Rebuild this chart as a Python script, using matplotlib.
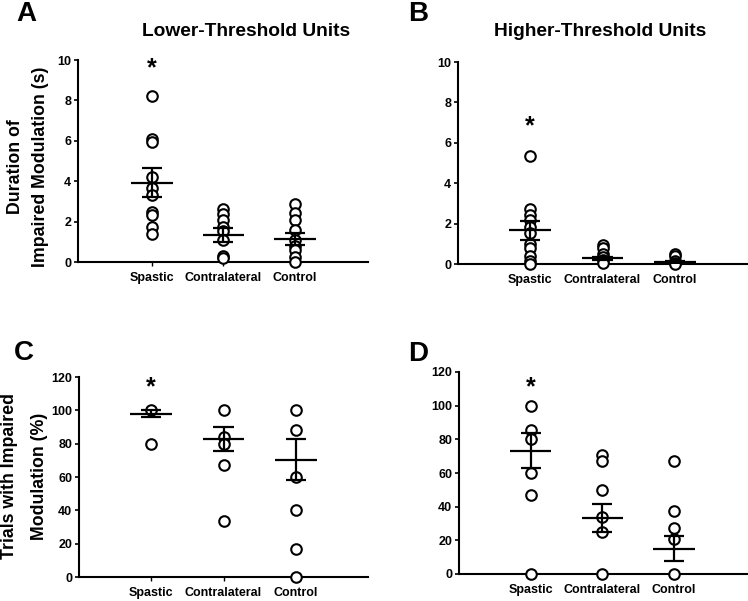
import numpy as np
import matplotlib
matplotlib.use("Agg")
import matplotlib.pyplot as plt

plt.rcParams['font.family'] = ['Liberation Sans', 'DejaVu Sans']
plt.rcParams['font.weight'] = 'bold'

groups = ["Spastic", "Contralateral", "Control"]

# A - lower-threshold units, duration (s)
dur_low = [
    [8.2, 6.1, 5.95, 4.2, 3.65, 3.3, 2.5, 2.35, 1.75, 1.38],
    [2.6, 2.4, 2.1, 1.75, 1.55, 1.1, 0.28, 0.18],
    [2.85, 2.45, 2.1, 1.6, 1.1, 0.8, 0.6, 0.25, 0.02],
]
dur_low_mean = [3.92, 1.33, 1.14]
dur_low_se = [0.71, 0.33, 0.31]

# B - higher-threshold units, duration (s)
dur_high = [
    [5.35, 2.7, 2.45, 2.2, 1.85, 1.55, 1.0, 0.8, 0.4, 0.15, 0.02],
    [0.95, 0.8, 0.5, 0.35, 0.2, 0.05],
    [0.5, 0.4, 0.15, 0.05, 0.0],
]
dur_high_mean = [1.67, 0.28, 0.1]
dur_high_se = [0.47, 0.09, 0.06]

# C - lower-threshold units, trials (%)
pct_low = [
    [100, 80],
    [100, 84, 80, 67, 33.5],
    [100, 88, 60, 40, 16.7, 0],
]
pct_low_mean = [98, 83, 70.5]
pct_low_se = [2, 7.2, 12.3]

# D - higher-threshold units, trials (%)
pct_high = [
    [100, 85.7, 80, 60, 47, 0],
    [70.5, 67, 50, 34, 25, 0],
    [67, 37.5, 27.5, 20.5, 0],
]
pct_high_mean = [73.3, 33.3, 15]
pct_high_se = [10.4, 8.2, 7.4]

star_y = [9.6, 6.8, 114, 111]

W, H = 748, 601
fig = plt.figure(figsize=(W / 100, H / 100), dpi=100)


def px_axes(l, r, b, t):
    return fig.add_axes([l / W, 1 - b / H, (r - l) / W, (b - t) / H])


def panel(ax, pts, means, ses, ylim, yticks, xlim, sy):
    x = np.arange(1, 4)
    for i in range(3):
        ax.plot([x[i]] * len(pts[i]), pts[i], 'o', ms=7.6, mfc='white', mec='black',
                mew=1.5, clip_on=False, zorder=3)
        ax.hlines(means[i], x[i] - 0.29, x[i] + 0.29, color='black', lw=1.6, zorder=4)
        ax.vlines(x[i], means[i] - ses[i], means[i] + ses[i], color='black', lw=1.6, zorder=4)
        ax.hlines([means[i] - ses[i], means[i] + ses[i]], x[i] - 0.14, x[i] + 0.14,
                  color='black', lw=1.6, zorder=4)
    ax.text(1, sy, "*", ha='center', va='center', fontsize=18, fontweight='bold')
    ax.set_xlim(*xlim)
    ax.set_ylim(*ylim)
    ax.set_yticks(yticks)
    ax.set_xticks(x)
    ax.set_xticklabels(groups)
    ax.spines['top'].set_visible(False)
    ax.spines['right'].set_visible(False)
    ax.spines['left'].set_linewidth(1.5)
    ax.spines['bottom'].set_linewidth(1.5)
    ax.tick_params(axis='y', length=3, width=1.2, pad=2, labelsize=9)
    ax.tick_params(axis='x', length=3, width=1.0, pad=4, labelsize=9)
    for lab in ax.get_xticklabels() + ax.get_yticklabels():
        lab.set_fontweight('bold')


axA = px_axes(78, 368, 262, 60)
panel(axA, dur_low, dur_low_mean, dur_low_se, (0, 10), range(0, 11, 2), (-0.03, 4.02), star_y[0])
axB = px_axes(458, 747, 264, 62)
panel(axB, dur_high, dur_high_mean, dur_high_se, (0, 10), range(0, 11, 2), (0, 4.0), star_y[1])
axC = px_axes(79, 368, 577, 377)
panel(axC, pct_low, pct_low_mean, pct_low_se, (0, 120), range(0, 121, 20), (0, 4.0), star_y[2])
axD = px_axes(459, 747, 574, 372)
panel(axD, pct_high, pct_high_mean, pct_high_se, (0, 120), range(0, 121, 20), (0, 4.02), star_y[3])

# titles and panel letters
fig.text(246 / W, 1 - 32 / H, "Lower-Threshold Units", ha='center', va='center',
         fontsize=13.8, fontweight='bold')
fig.text(600 / W, 1 - 32 / H, "Higher-Threshold Units", ha='center', va='center',
         fontsize=13.8, fontweight='bold')
for lab, xx, yy in [("A", 16, 1), ("B", 408, 1), ("C", 14, 340), ("D", 408, 341)]:
    fig.text(xx / W, 1 - yy / H, lab, ha='left', va='top', fontsize=20, fontweight='bold')

fig.text(28 / W, 1 - 167 / H, "Duration of\nImpaired Modulation (s)", rotation=90,
         ha='center', va='center', fontsize=12.8, fontweight='bold', linespacing=1.6)
fig.text(25 / W, 1 - 476 / H, "Trials with Impaired\nModulation (%)", rotation=90,
         ha='center', va='center', fontsize=12.8, fontweight='bold', linespacing=2.0)

fig.savefig("out.png", dpi=100)
